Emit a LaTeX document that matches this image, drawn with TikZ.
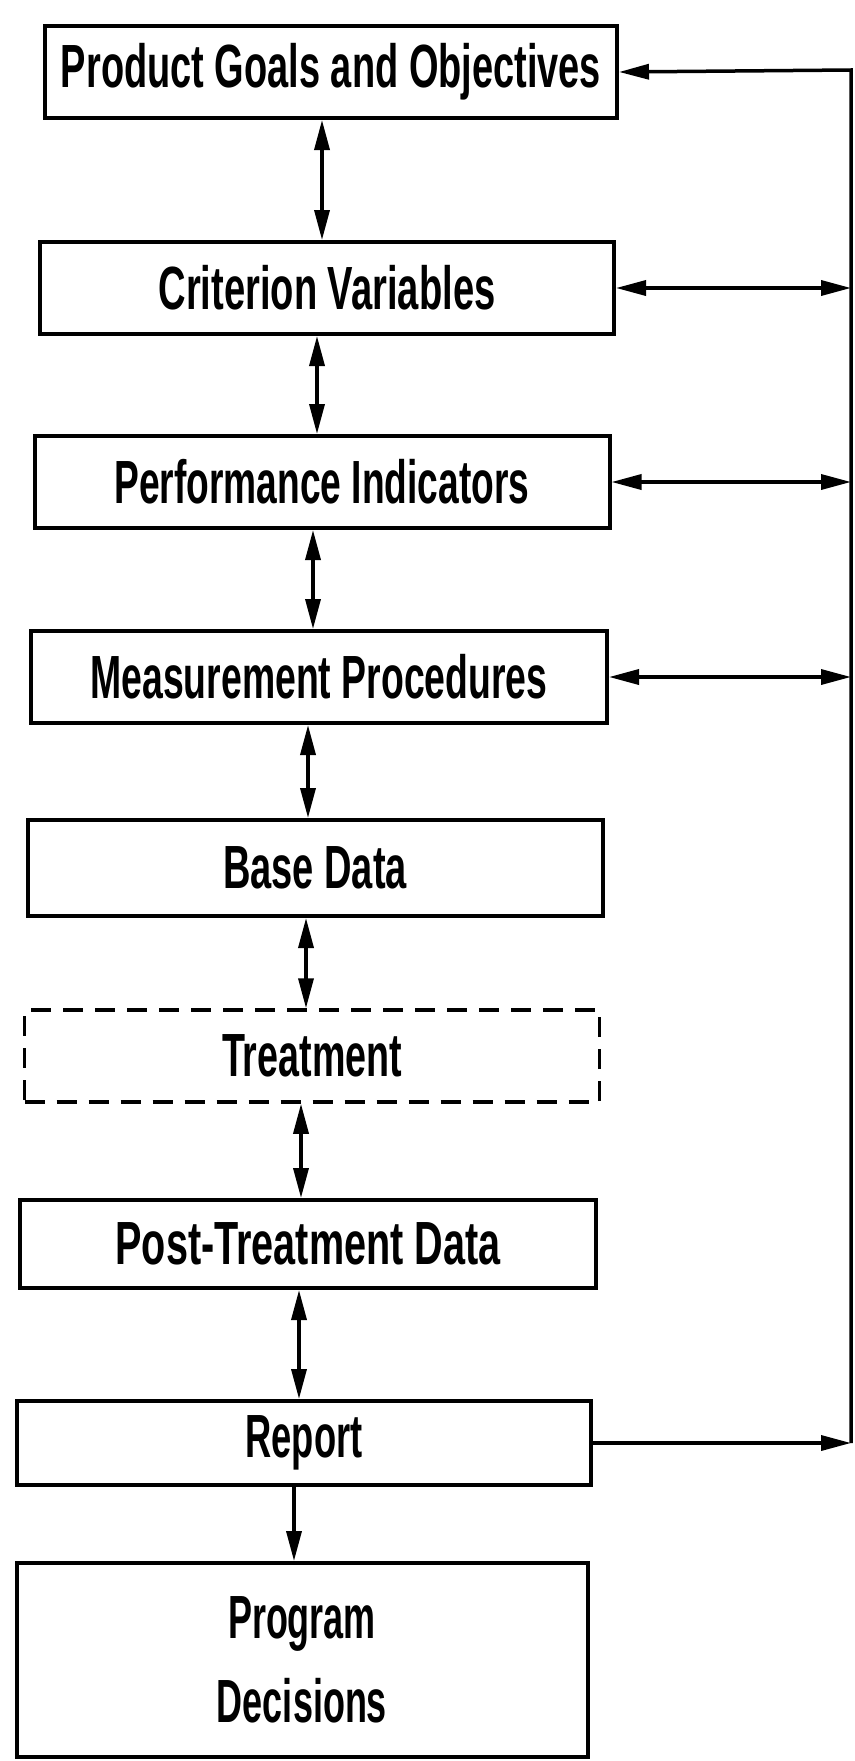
\documentclass[tikz,border=0pt]{standalone}
\usepackage{fontspec}
\setmainfont{Liberation Sans}
\usetikzlibrary{arrows.meta,calc}
\newcommand{\lbl}[2]{\resizebox{#1pt}{\height}{#2}}
\begin{document}
\begin{tikzpicture}[x=1pt,y=-1pt,
  box/.style={draw, line width=4pt, inner sep=0pt, minimum height=92pt,
    font=\fontsize{61}{84}\selectfont\bfseries},
  dbox/.style={box, line width=3.5pt, dash pattern=on 20pt off 12pt},
  tip/.tip={Triangle[length=30pt,width=15pt]},
  biarrow/.style={line width=3.5pt, tip-tip},
  onearrow/.style={line width=3.5pt, -tip},
  plain/.style={line width=3.5pt}]
\useasboundingbox (0,0) rectangle (854,1761);
\node[box, minimum width=572pt] (b1) at (331,72) {\lbl{540}{Product Goals and Objectives}};
\node[box, minimum width=574pt] (b2) at (327,288) {\lbl{337}{Criterion Variables}};
\node[box, minimum width=575pt] (b3) at (322,482) {\lbl{415}{Performance Indicators}};
\node[box, minimum width=576pt] (b4) at (319,677) {\lbl{457}{Measurement Procedures}};
\node[box, minimum width=575pt, minimum height=96pt] (b5) at (315,868) {\lbl{184}{Base Data}};
\node[dbox, minimum width=575pt] (b6) at (312,1056) {\lbl{180}{Treatment}};
\node[box, minimum width=576pt, minimum height=88pt] (b7) at (308,1244) {\lbl{385}{Post-Treatment Data}};
\node[box, minimum width=574pt, minimum height=84pt] (b8) at (304,1443) {\lbl{117}{Report}};
\node[box, minimum width=571pt, minimum height=194pt, align=center] (b9) at (302,1660)
  {\lbl{148}{Program}\\\lbl{170}{Decisions}};
\coordinate (rtop) at (851,70);
\coordinate (rbot) at (851,1443);
% vertical connectors
\draw[biarrow] ([xshift=-9pt]b1.south) -- ([xshift=-9pt]b1.south |- b2.north);
\draw[biarrow] ([xshift=-10pt]b2.south) -- ([xshift=-10pt]b2.south |- b3.north);
\draw[biarrow] ([xshift=-9pt]b3.south) -- ([xshift=-9pt]b3.south |- b4.north);
\draw[biarrow] ([xshift=-11pt]b4.south) -- ([xshift=-11pt]b4.south |- b5.north);
\draw[biarrow] ([xshift=-9pt]b5.south) -- ([xshift=-9pt]b5.south |- b6.north);
\draw[biarrow] ([xshift=-11pt]b6.south) -- ([xshift=-11pt]b6.south |- b7.north);
\draw[biarrow] ([xshift=-9pt]b7.south) -- ([xshift=-9pt]b7.south |- b8.north);
\draw[onearrow] ([xshift=-10pt]b8.south) -- ([xshift=-10pt]b8.south |- b9.north);
% right side feedback
\draw[biarrow] (b2.east) -- (b2.east -| rtop);
\draw[biarrow] (b3.east) -- (b3.east -| rtop);
\draw[biarrow] (b4.east) -- (b4.east -| rtop);
\draw[onearrow] (b8.east) -- (rbot);
\draw[onearrow] (rbot) -- (rtop) -- (b1.east);
\end{tikzpicture}
\end{document}
